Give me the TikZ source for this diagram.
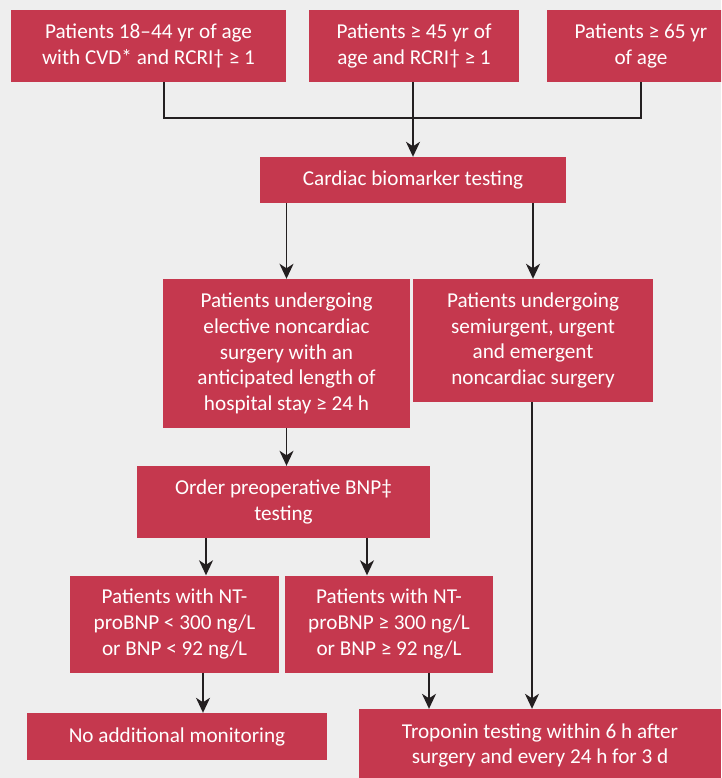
\documentclass[tikz,border=0pt]{standalone}
\usepackage{fontspec}
\setmainfont{Carlito}
\usetikzlibrary{arrows.meta}
\definecolor{boxred}{HTML}{C5384E}
\definecolor{bgc}{HTML}{EEEEEE}
\definecolor{ink}{HTML}{231F20}
\begin{document}
\begin{tikzpicture}[x=1pt,y=-1pt,
  box/.style={fill=boxred, text=white, inner sep=0pt, align=center,
    font=\fontsize{21.2}{25.6}\selectfont},
  conn/.style={draw=ink, line width=2.3pt},
  arr/.style={draw=ink, line width=1.5pt, -{Stealth[length=15pt,width=14pt,inset=4.5pt]}}]
\useasboundingbox (0,0) rectangle (721,778);
\clip (0,0) rectangle (721,778);
\fill[bgc] (0,0) rectangle (721,778);
% boxes
\node[box, minimum width=275pt, minimum height=72pt] (A) at (148.5,46) {Patients 18–44 yr of age\\with CVD* and RCRI† ≥ 1};
\node[box, minimum width=210pt, minimum height=72pt] (B) at (414,46) {Patients ≥ 45 yr of\\age and RCRI† ≥ 1};
\node[box, minimum width=188pt, minimum height=72pt] (C) at (641,46) {Patients ≥ 65 yr\\of age};
\node[box, minimum width=306pt, minimum height=46pt] (K) at (413,180) {Cardiac biomarker testing};
\node[box, minimum width=247pt, minimum height=149pt] (D) at (286.5,353.5) {Patients undergoing\\elective noncardiac\\surgery with an\\anticipated length of\\hospital stay ≥ 24 h};
\node[box, minimum width=240pt, minimum height=123pt] (R) at (533,340.5) {Patients undergoing\\semiurgent, urgent\\and emergent\\noncardiac surgery};
\node[box, minimum width=293pt, minimum height=72pt] (P) at (283.5,502) {Order preoperative BNP‡\\testing};
\node[box, minimum width=209pt, minimum height=97pt] (E) at (174.5,624) {Patients with NT-\\proBNP < 300 ng/L\\or BNP < 92 ng/L};
\node[box, minimum width=208pt, minimum height=97pt] (F) at (389,624) {Patients with NT-\\proBNP ≥ 300 ng/L\\or BNP ≥ 92 ng/L};
\node[box, minimum width=300pt, minimum height=47pt] (N) at (177,736.5) {No additional monitoring};
\node[box, minimum width=362pt, minimum height=73pt] (T) at (540,745.5) {Troponin testing within 6 h after\\surgery and every 24 h for 3 d};
% junction coordinates
\coordinate (j1) at (164,118);
\coordinate (j2) at (413,118);
\coordinate (j3) at (641,118);
\coordinate (b1) at (206,540);
\coordinate (b2) at (367,540);
\coordinate (c1) at (203,680);
\coordinate (c2) at (429,680);
\coordinate (c3) at (532,680);
% connectors
\draw[conn] (j1 |- A.south) -- (j1) -- (j3) -- (j3 |- C.south);
\draw[conn] (j2 |- B.south) -- (j2);
\draw[arr] (j2) -- (j2 |- K.north);
\draw[arr] (D.north |- K.south) -- (D.north);
\draw[arr] (R.north |- K.south) -- (R.north);
\draw[arr] (D.south) -- (D.south |- P.north);
\draw[arr] (b1 |- P.south) -- (b1 |- E.north);
\draw[arr] (b2 |- P.south) -- (b2 |- F.north);
\draw[arr] (c1 |- E.south) -- (c1 |- N.north);
\draw[arr] (c2 |- F.south) -- (c2 |- T.north);
\draw[arr] (c3 |- R.south) -- (c3 |- T.north);
\end{tikzpicture}
\end{document}
